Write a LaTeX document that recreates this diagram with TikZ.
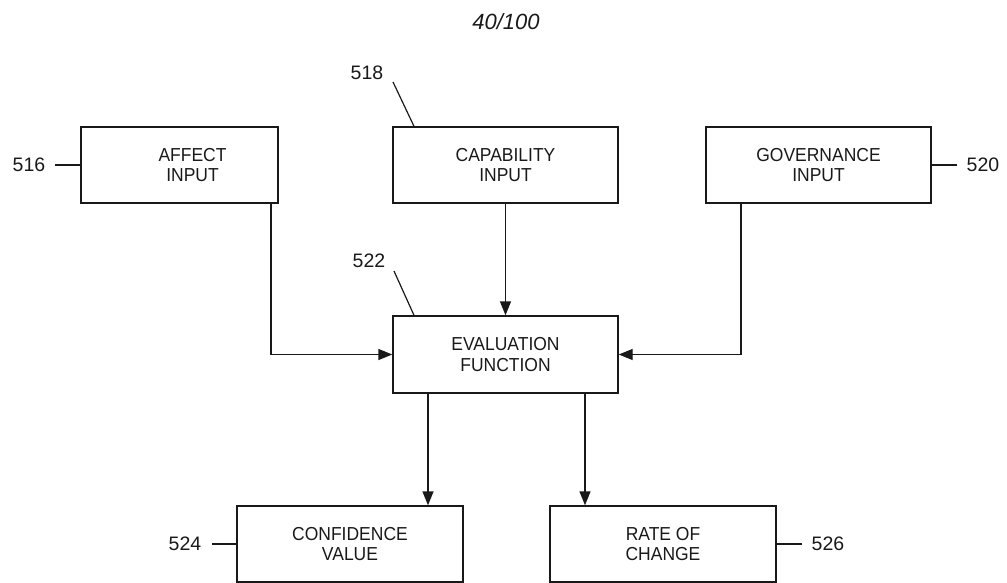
\documentclass[tikz,border=0pt]{standalone}
\usepackage{fontspec}
\setmainfont{Liberation Sans}
\newfontfamily\boxfont[FakeStretch=0.93]{Liberation Sans}
\usetikzlibrary{arrows.meta}
\definecolor{ink}{RGB}{25,25,25}
\begin{document}
\begin{tikzpicture}[x=1pt,y=-1pt,
  blockbox/.style={draw=ink, line width=1.4pt, inner sep=0pt, align=center,
    font=\boxfont\fontsize{18.8}{20.5}\selectfont, text=ink},
  reflabel/.style={inner sep=0pt, font=\fontsize{19.5}{22}\selectfont, text=ink},
  leader/.style={draw=ink, line width=1.2pt},
  flow/.style={draw=ink, line width=1.4pt, -{Triangle[length=14pt,width=11pt]}}]
\useasboundingbox (0,0) rectangle (1007,583);
\node[font=\fontsize{22}{24}\selectfont\itshape, text=ink, inner sep=0pt] (hdr) at (506,22) {40/100};

\node[blockbox, minimum width=197pt, minimum height=76pt] (aff) at (179.5,165) {\hspace*{26pt}AFFECT\\\hspace*{26pt}INPUT};
\node[blockbox, minimum width=225pt, minimum height=76pt] (cap) at (505.5,165) {CAPABILITY\\INPUT};
\node[blockbox, minimum width=225pt, minimum height=76pt] (gov) at (818.5,165) {GOVERNANCE\\INPUT};
\node[blockbox, minimum width=225pt, minimum height=77pt] (eva) at (505.5,354.5) {EVALUATION\\FUNCTION};
\node[blockbox, minimum width=226pt, minimum height=76pt] (con) at (350,544) {CONFIDENCE\\VALUE};
\node[blockbox, minimum width=226pt, minimum height=76pt] (roc) at (663,544) {RATE OF\\CHANGE};

\node[reflabel] (l516) at (29,165) {516};
\node[reflabel] (l518) at (367,72.5) {518};
\node[reflabel] (l520) at (983,165) {520};
\node[reflabel] (l522) at (369,261) {522};
\node[reflabel] (l524) at (185,544) {524};
\node[reflabel] (l526) at (828,544) {526};

\coordinate (c516) at (55,165);
\coordinate (c518) at (393,82);
\coordinate (c520) at (957,165);
\coordinate (c522) at (394,271);
\coordinate (c524) at (212,544);
\coordinate (c526) at (802,544);

\draw[leader] (c516) -- (aff.west);
\draw[leader] (c518) -- (cap.north west -| 414,0);
\draw[leader] (c520) -- (gov.east);
\draw[leader] (c522) -- (eva.north west -| 414,0);
\draw[leader] (c524) -- (con.west);
\draw[leader] (c526) -- (roc.east);

\draw[flow] (aff.south -| 271,0) |- (eva.west);
\draw[flow] (cap.south) -- (eva.north);
\draw[flow] (gov.south -| 741,0) |- (eva.east);
\draw[flow] (eva.south -| 428,0) -- (con.north -| 428,0);
\draw[flow] (eva.south -| 585,0) -- (roc.north -| 585,0);
\end{tikzpicture}
\end{document}
